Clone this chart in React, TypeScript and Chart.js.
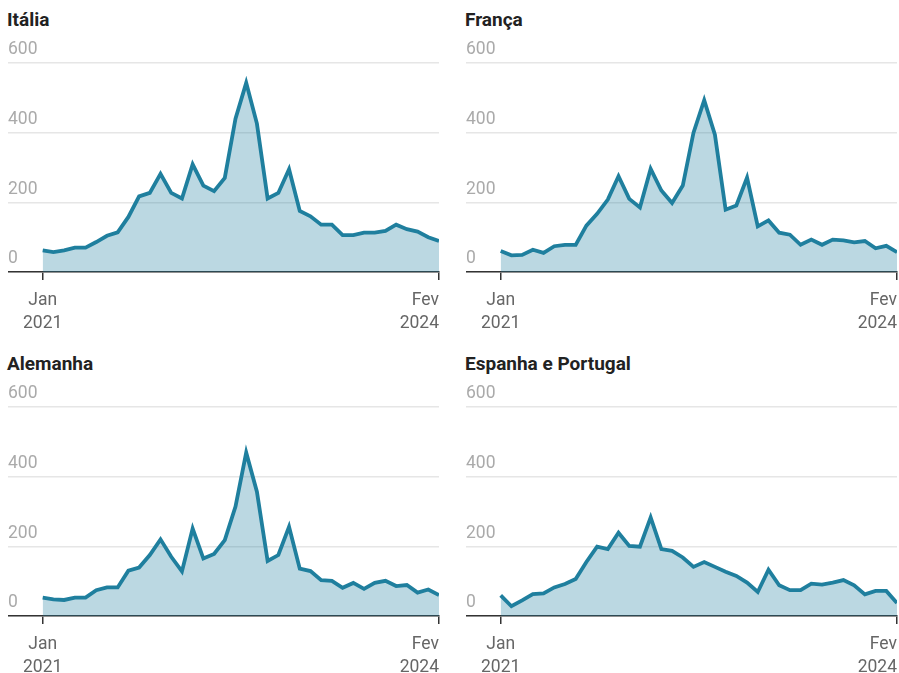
import React, { useEffect, useRef } from 'react';
import { Chart, registerables } from 'chart.js';

Chart.register(...registerables);

// ---- Data ----
const monthNames = ['Jan', 'Fev', 'Mar', 'Abr', 'Mai', 'Jun', 'Jul', 'Ago', 'Set', 'Out', 'Nov', 'Dez'];
const years = [2021, 2022, 2023, 2024];
// Jan 2021 .. Fev 2024 (38 months)
const months: string[] = years
  .flatMap((y) => monthNames.map((m) => `${m} ${y}`))
  .slice(0, 38);

const italia = [62, 57, 62, 70, 70, 86, 104, 114, 158, 217, 227, 282, 227, 211, 309, 248, 232, 270, 440, 543, 426, 211, 227, 295, 175, 160, 136, 136, 106, 106, 113, 113, 118, 136, 123, 116, 100, 89];
const franca = [60, 48, 49, 64, 55, 74, 78, 78, 133, 167, 208, 275, 210, 185, 296, 234, 198, 248, 400, 493, 394, 179, 191, 271, 131, 148, 113, 107, 78, 93, 78, 93, 91, 85, 89, 68, 75, 57];
const alemanha = [53, 48, 46, 53, 53, 74, 82, 82, 130, 139, 175, 220, 170, 128, 251, 165, 178, 218, 314, 469, 357, 158, 175, 256, 136, 129, 103, 101, 81, 95, 78, 95, 101, 86, 89, 67, 76, 60];
const espanhaPortugal = [59, 28, 45, 63, 65, 82, 92, 106, 155, 199, 192, 239, 201, 199, 283, 192, 187, 168, 141, 155, 141, 127, 115, 96, 69, 133, 88, 74, 74, 93, 90, 96, 103, 88, 62, 72, 72, 37];

const yTickValues = [0, 200, 400, 600];
const firstTickLabel = ['Jan', '2021'];
const lastTickLabel = ['Fev', '2024'];

const panelTitles = ['Itália', 'França', 'Alemanha', 'Espanha e Portugal'];

// ---- Styles ----
const LINE_COLOR = '#1f7f9e';
const FILL_COLOR = 'rgba(31,127,158,0.3)';
const FONT = 'Roboto';

const xLabelPlugin = {
  id: 'xEndLabels',
  afterDraw(chart: any) {
    const scale = chart.scales.x;
    const ctx = chart.ctx;
    const bottom = chart.chartArea.bottom;
    const items = [
      { value: 0, lines: firstTickLabel, align: 'center' },
      { value: months.length - 1, lines: lastTickLabel, align: 'right' },
    ];
    ctx.save();
    ctx.fillStyle = '#666666';
    ctx.font = `17.5px ${FONT}`;
    ctx.textBaseline = 'alphabetic';
    items.forEach((it) => {
      const x = scale.getPixelForValue(it.value);
      ctx.textAlign = it.align as CanvasTextAlign;
      it.lines.forEach((line, i) => {
        ctx.fillText(line, x, bottom + 33 + i * 23);
      });
    });
    ctx.restore();
  },
};

type PanelProps = {
  title: string;
  values: number[];
  left: number;
  top: number;
  width: number;
  padRight: number;
};

const CANVAS_H = 329;
const AREA_TOP = 63;
const AREA_BOTTOM = 272;

function Panel({ title, values, left, top, width, padRight }: PanelProps) {
  const ref = useRef<HTMLCanvasElement | null>(null);

  useEffect(() => {
    if (!ref.current) return;
    const data = values.map((v, i) => ({ x: i, y: v }));
    const chart = new Chart(ref.current, {
      type: 'line',
      data: {
        labels: months,
        datasets: [
          {
            label: title,
            data,
            borderColor: LINE_COLOR,
            backgroundColor: FILL_COLOR,
            fill: 'origin',
            borderWidth: 3.8,
            pointRadius: 0,
            tension: 0,
          },
        ],
      },
      options: {
        animation: false,
        responsive: false,
        layout: { padding: { top: AREA_TOP, left: 0, right: padRight, bottom: 0 } },
        plugins: {
          legend: { display: false },
          tooltip: { enabled: false },
          title: { display: false },
        },
        scales: {
          x: {
            type: 'linear',
            min: -3.24,
            max: months.length - 1,
            afterBuildTicks: (s: any) => {
              s.ticks = [{ value: 0 }, { value: months.length - 1 }];
            },
            afterFit: (s: any) => {
              s.height = CANVAS_H - AREA_BOTTOM;
            },
            ticks: { display: false },
            grid: {
              display: true,
              drawOnChartArea: false,
              drawTicks: true,
              tickLength: 8,
              color: '#333333',
              lineWidth: 1.5,
            },
            border: { display: true, color: '#333333', width: 1.5 },
          },
          y: {
            min: 0,
            max: 600,
            afterBuildTicks: (s: any) => {
              s.ticks = yTickValues.map((v) => ({ value: v }));
            },
            ticks: {
              mirror: true,
              padding: 0,
              labelOffset: -13,
              color: '#aaaaaa',
              font: { family: FONT, size: 17.5 },
            },
            grid: { color: '#e6e6e6', lineWidth: 1.5, drawTicks: false },
            border: { display: false },
          },
        },
      },
      plugins: [xLabelPlugin],
    } as any);
    return () => chart.destroy();
  }, [title, values]);

  return (
    <>
      <div
        style={{
          position: 'absolute',
          left: left - 1,
          top: top + 9,
          font: `bold 19px ${FONT}`,
          lineHeight: '22px',
          color: '#222222',
          whiteSpace: 'nowrap',
        }}
      >
        {title}
      </div>
      <canvas
        ref={ref}
        width={width}
        height={CANVAS_H}
        style={{ position: 'absolute', left, top, width, height: CANVAS_H }}
      />
    </>
  );
}

export default function App() {
  return (
    <div
      style={{
        position: 'absolute',
        left: 0,
        top: 0,
        width: 899,
        height: 673,
        overflow: 'hidden',
        background: '#ffffff',
        fontFamily: FONT,
      }}
    >
      <Panel title={panelTitles[0]} values={italia} left={8} top={0} width={435} padRight={4} />
      <Panel title={panelTitles[1]} values={franca} left={466} top={0} width={433} padRight={2} />
      <Panel title={panelTitles[2]} values={alemanha} left={8} top={344} width={435} padRight={4} />
      <Panel title={panelTitles[3]} values={espanhaPortugal} left={466} top={344} width={433} padRight={2} />
    </div>
  );
}
